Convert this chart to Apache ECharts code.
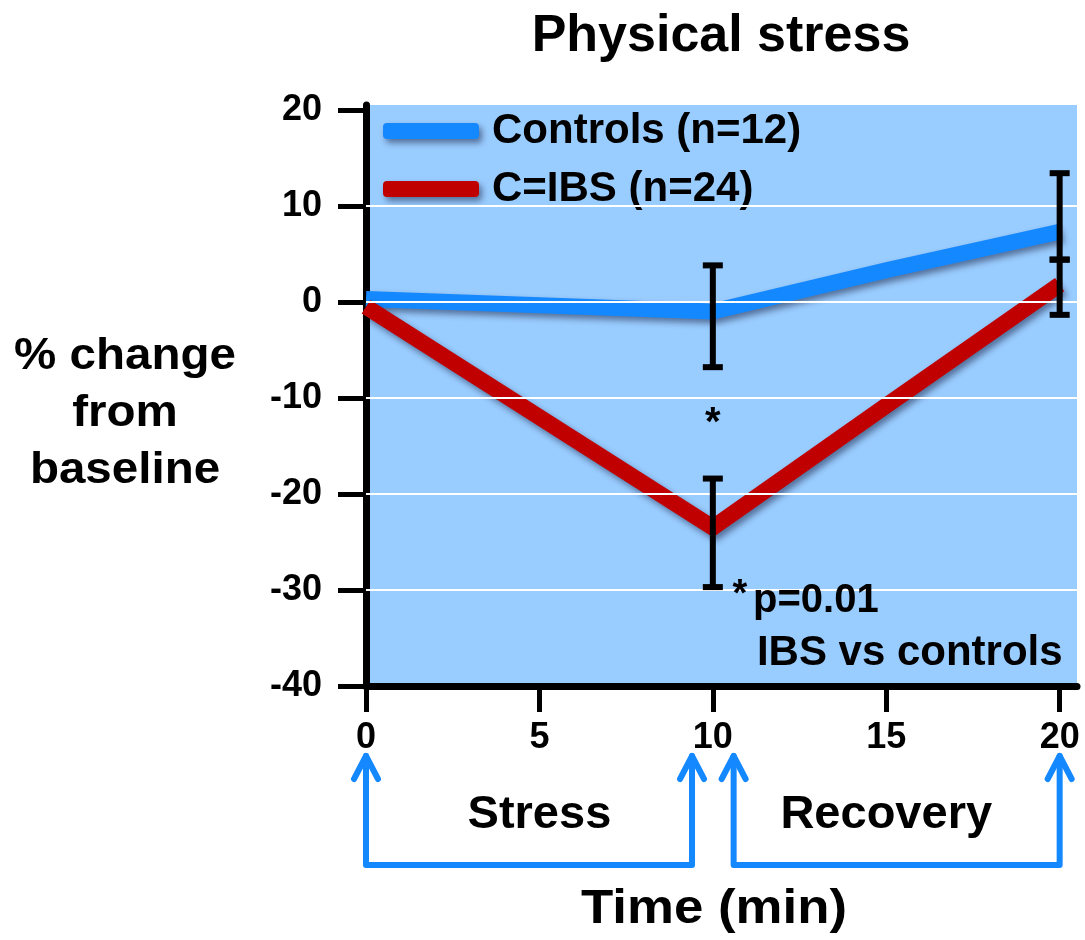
<!DOCTYPE html>
<html>
<head>
<meta charset="utf-8">
<script src="https://cdn.jsdelivr.net/npm/echarts@6/dist/echarts.min.js"></script>
<style>
html, body { margin: 0; padding: 0; background: #ffffff; }
#chart { width: 1085px; height: 940px; }
</style>
</head>
<body>
<div id="chart"></div>
<script>
// Time points (min)
const times = [0, 10, 15, 20];
// Mean % change from baseline for each group
const controls = [0.3, -1.0, 3.3, 7.3];
const ibs = [-0.5, -23.5, -10.8, 1.8];
// Error bars: time, lower end, upper end
const errTime = [10, 10, 20, 20];
const errLow = [-6.8, -29.7, 4.4, -1.35];
const errHigh = [3.8, -18.4, 13.4, 4.4];
// Axis ticks and horizontal reference lines
const xTicks = [0, 5, 10, 15, 20];
const yTicks = [-40, -30, -20, -10, 0, 10, 20];
const gridValues = [-30, -20, -10, 0, 10];
// Protocol phases shown under the time axis
const phaseNames = ['Stress', 'Recovery'];
const phaseStart = [0, 10.6];
const phaseEnd = [9.4, 20];
const phaseMid = [5, 15];
const seriesNames = ['Controls (n=12)', 'C=IBS (n=24)'];
// Significance notes placed in data coordinates
const noteText = ['*', '*', 'p=0.01', 'IBS vs controls'];
const noteX = [10, 10.57, 11.16, 11.27];
const noteY = [-12.7, -30.6, -31.1, -36.6];

const FONT = '"Liberation Sans", Arial, Helvetica, sans-serif';
const BLUE = '#1488ff';
const RED = '#c00000';
const Y_MIN = -40;
const noteSize = [40, 38, 40, 42];
const noteAlign = ['center', 'left', 'left', 'left'];

const lineShadow = {
  shadowColor: 'rgba(0, 0, 30, 0.45)',
  shadowBlur: 6,
  shadowOffsetX: 3,
  shadowOffsetY: 4
};

const chart = echarts.init(document.getElementById('chart'), null, { renderer: 'canvas' });

const option = {
  animation: false,
  backgroundColor: '#ffffff',
  title: {
    text: 'Physical stress',
    left: 716,
    top: 6,
    textAlign: 'center',
    textStyle: { fontFamily: FONT, fontSize: 52, fontWeight: 'bold', color: '#000' }
  },
  grid: {
    left: 366, top: 105, right: 8, bottom: 254,
    show: true, backgroundColor: '#99ccff', borderWidth: 0,
    containLabel: false, outerBoundsMode: 'none'
  },
  legend: {
    data: seriesNames,
    orient: 'vertical',
    left: 383, top: 110, padding: 0,
    itemWidth: 96, itemHeight: 16, itemGap: 16,
    icon: 'roundRect',
    selectedMode: false,
    itemStyle: lineShadow,
    textStyle: { fontFamily: FONT, fontSize: 42, fontWeight: 'bold', color: '#000', padding: [0, 0, 0, 8] }
  },
  xAxis: {
    type: 'value', min: 0, max: 20.5,
    axisLine: { show: true, onZero: false, lineStyle: { color: '#000', width: 7 } },
    axisTick: { show: true, customValues: xTicks, length: 26, lineStyle: { color: '#000', width: 5 } },
    axisLabel: { customValues: xTicks, margin: 34, fontFamily: FONT, fontSize: 36, fontWeight: 'bold', color: '#000' },
    splitLine: { show: false }
  },
  yAxis: {
    type: 'value', min: Y_MIN, max: 20.5,
    axisLine: { show: true, onZero: false, lineStyle: { color: '#000', width: 7 } },
    axisTick: { show: true, customValues: yTicks, length: 28, lineStyle: { color: '#000', width: 5 } },
    axisLabel: { customValues: yTicks, margin: 44, fontFamily: FONT, fontSize: 36, fontWeight: 'bold', color: '#000' },
    splitLine: { show: false }
  },
  graphic: [
    {
      type: 'text', x: 125, y: 414, scaleX: 1.08,
      style: {
        text: '% change\nfrom\nbaseline', fill: '#000', lineHeight: 57,
        font: 'bold 44px ' + FONT, textAlign: 'center', textVerticalAlign: 'middle'
      }
    },
    {
      type: 'text', x: 714, y: 910, scaleX: 1.1,
      style: {
        text: 'Time (min)', fill: '#000',
        font: 'bold 48px ' + FONT, textAlign: 'center', textVerticalAlign: 'middle'
      }
    }
  ],
  series: [
    {
      // white horizontal reference lines
      type: 'line', name: 'gridlines', data: [], z: 1, silent: true,
      markLine: {
        silent: true, symbol: 'none', animation: false,
        label: { show: false },
        lineStyle: { color: '#ffffff', width: 2, type: 'solid' },
        data: gridValues.map(v => ({ yAxis: v }))
      }
    },
    {
      type: 'line', name: seriesNames[0], z: 3,
      data: times.map((t, i) => [t, controls[i]]),
      symbol: 'none', showSymbol: false,
      itemStyle: { color: BLUE },
      lineStyle: Object.assign({ color: BLUE, width: 16, join: 'miter', cap: 'butt' }, lineShadow)
    },
    {
      type: 'line', name: seriesNames[1], z: 3,
      data: times.map((t, i) => [t, ibs[i]]),
      symbol: 'none', showSymbol: false,
      itemStyle: { color: RED },
      lineStyle: Object.assign({ color: RED, width: 16, join: 'miter', cap: 'butt' }, lineShadow)
    },
    {
      // error bars
      type: 'custom', name: 'errors', z: 5, silent: true,
      data: errTime.map((t, i) => [t, errLow[i], errHigh[i]]),
      encode: { x: 0, y: [1, 2] },
      renderItem: function (params, api) {
        const lo = api.coord([api.value(0), api.value(1)]);
        const hi = api.coord([api.value(0), api.value(2)]);
        const half = 10;
        const st = { stroke: '#000', lineWidth: 6, lineCap: 'butt' };
        return {
          type: 'group',
          children: [
            { type: 'line', shape: { x1: lo[0], y1: lo[1], x2: hi[0], y2: hi[1] }, style: st },
            { type: 'line', shape: { x1: lo[0] - half, y1: lo[1], x2: lo[0] + half, y2: lo[1] }, style: st },
            { type: 'line', shape: { x1: hi[0] - half, y1: hi[1], x2: hi[0] + half, y2: hi[1] }, style: st }
          ]
        };
      }
    },
    {
      // significance notes inside the plot
      type: 'custom', name: 'notes', z: 6, silent: true,
      data: noteX.map((x, i) => [x, noteY[i]]),
      encode: { x: 0, y: 1 },
      renderItem: function (params, api) {
        const i = params.dataIndex;
        const p = api.coord([api.value(0), api.value(1)]);
        return {
          type: 'text', x: p[0], y: p[1],
          style: {
            text: noteText[i], fill: '#000', font: 'bold ' + noteSize[i] + 'px ' + FONT,
            textAlign: noteAlign[i], textVerticalAlign: 'middle'
          }
        };
      }
    },
    {
      // stress / recovery brackets below the time axis
      type: 'custom', name: 'phases', z: 6, silent: true, clip: false,
      data: phaseStart.map((s, i) => [s, phaseEnd[i]]),
      encode: { x: [0, 1] },
      renderItem: function (params, api) {
        const i = params.dataIndex;
        const base = api.coord([0, Y_MIN])[1];
        const x1 = api.coord([api.value(0), Y_MIN])[0];
        const x2 = api.coord([api.value(1), Y_MIN])[0];
        const xm = api.coord([phaseMid[i], Y_MIN])[0];
        const tip = base + 70;
        const bottom = base + 179;
        const st = { stroke: BLUE, lineWidth: 6, fill: null, lineJoin: 'round', lineCap: 'round' };
        const head = (x) => ({
          type: 'polyline',
          shape: { points: [[x - 12, tip + 23], [x, tip], [x + 12, tip + 23]] },
          style: st
        });
        return {
          type: 'group',
          children: [
            { type: 'polyline', shape: { points: [[x1, tip], [x1, bottom], [x2, bottom], [x2, tip]] }, style: st },
            head(x1), head(x2),
            {
              type: 'text', x: xm, y: base + 129,
              style: {
                text: phaseNames[i], fill: '#000', font: 'bold 47px ' + FONT,
                textAlign: 'center', textVerticalAlign: 'middle'
              }
            }
          ]
        };
      }
    }
  ]
};

chart.setOption(option);
</script>
</body>
</html>
